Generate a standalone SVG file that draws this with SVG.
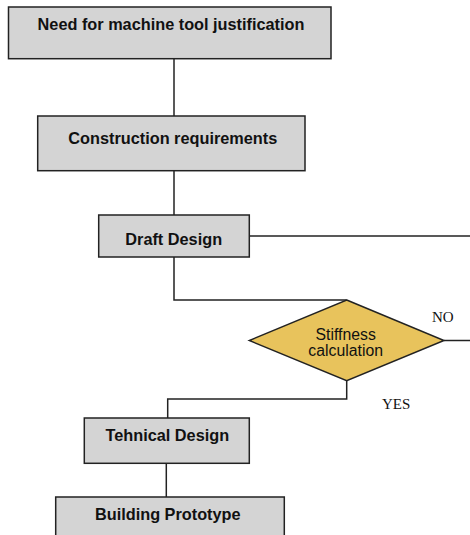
<svg xmlns="http://www.w3.org/2000/svg" width="470" height="535" viewBox="0 0 470 535">
<style>
.box{fill:#d4d4d4;stroke:#222;stroke-width:1.5}
.dia{fill:#e8c35c;stroke:#222;stroke-width:1.5}
.lbl{font-family:"Liberation Sans",Arial,sans-serif;font-weight:bold;font-size:16.3px;fill:#111;text-anchor:middle}
.dtx{font-family:"Liberation Sans",Arial,sans-serif;font-size:15.8px;fill:#111;text-anchor:middle}
.yn{font-family:"Liberation Serif","Times New Roman",serif;font-size:15px;fill:#111}
.con{fill:none;stroke:#222;stroke-width:1.5}
</style>
<rect width="470" height="535" fill="#fff"/>
<g id="connectors">
<path class="con" d="M174 58.7V116"/>
<path class="con" d="M174 170.7V215"/>
<path class="con" d="M249.3 236H470"/>
<path class="con" d="M174 257V300H346.7"/>
<path class="con" d="M444 340.5H470"/>
<path class="con" d="M346.7 380.7V399H167.7V418"/>
<path class="con" d="M166.3 463.3V497"/>
<text class="yn" x="432" y="321.5">NO</text>
<text class="yn" x="382" y="409.3">YES</text>
</g>
<g id="need">
<rect class="box" x="8.5" y="7" width="322.5" height="51.7"/>
<text class="lbl" x="171" y="29.5">Need for machine tool justification</text>
</g>
<g id="construction">
<rect class="box" x="37.7" y="116" width="267.3" height="54.7"/>
<text class="lbl" x="172.8" y="143.5">Construction requirements</text>
</g>
<g id="draft">
<rect class="box" x="98.7" y="215" width="150.6" height="42"/>
<text class="lbl" x="173.7" y="244.5">Draft Design</text>
</g>
<g id="stiffness">
<polygon class="dia" points="346.7,300 444,340.5 346.7,380.7 249.3,340.5"/>
<text class="dtx" x="345.7" y="339.5">Stiffness</text>
<text class="dtx" x="345.7" y="356">calculation</text>
</g>
<g id="technical">
<rect class="box" x="84.3" y="418" width="165" height="45.3"/>
<text class="lbl" x="167.3" y="441.3">Tehnical Design</text>
</g>
<g id="prototype">
<rect class="box" x="55.7" y="497" width="228.6" height="50"/>
<text class="lbl" x="167.8" y="519.5">Building Prototype</text>
</g>
</svg>
